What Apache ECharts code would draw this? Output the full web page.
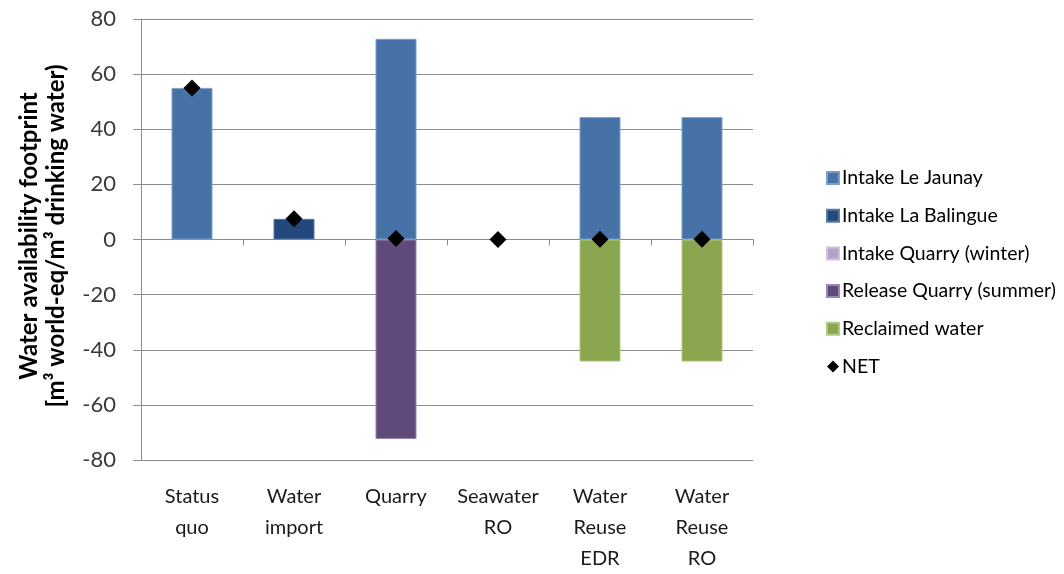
<!DOCTYPE html>
<html>
<head>
<meta charset="utf-8">
<script src="https://cdn.jsdelivr.net/npm/echarts@6/dist/echarts.min.js"></script>
<style>html,body{margin:0;padding:0;background:#fff;}#c{width:1064px;height:574px;}</style>
</head>
<body>
<div id="c"></div>
<script>
var categories = ['Status\nquo', 'Water\nimport', 'Quarry', 'Seawater\nRO', 'Water\nReuse\nEDR', 'Water\nReuse\nRO'];
var intakeLeJaunay = [55, null, 72.8, null, 44.4, 44.4];
var intakeLaBalingue = [null, 7.5, null, null, null, null];
var intakeQuarryWinter = [null, null, null, null, null, null];
var releaseQuarrySummer = [null, null, -72.4, null, null, null];
var reclaimedWater = [null, null, null, null, -44.3, -44.3];
var net = [55, 7.5, 0.4, 0, 0.1, 0.1];
var yTicks = [-80, -60, -40, -20, 0, 20, 40, 60, 80];

var FONT = 'Lato, "Open Sans", sans-serif';
var chart = echarts.init(document.getElementById('c'), null, {renderer: 'canvas'});

function barSeries(name, data, color, border) {
  return {
    name: name, type: 'bar', stack: 'total', stackStrategy: 'samesign',
    xAxisIndex: 0, yAxisIndex: 0, data: data, barWidth: 41,
    itemStyle: {color: color, borderColor: border, borderWidth: 1},
    emphasis: {disabled: true}
  };
}

chart.setOption({
  animation: false,
  backgroundColor: '#fff',
  textStyle: {fontFamily: FONT},
  grid: {left: 141, right: 311, top: 19, bottom: 108, containLabel: false},
  legend: {
    orient: 'vertical', left: 821, top: 162,
    itemWidth: 12, itemHeight: 12, itemGap: 15.7,
    textStyle: {fontSize: 19.5, color: '#000', fontFamily: FONT, padding: [0, 0, 0, -2], lineHeight: 22},
    data: [
      {name: 'Intake Le Jaunay', icon: 'rect'},
      {name: 'Intake La Balingue', icon: 'rect'},
      {name: 'Intake Quarry (winter)', icon: 'rect'},
      {name: 'Release Quarry (summer)', icon: 'rect'},
      {name: 'Reclaimed water', icon: 'rect'},
      {name: 'NET', icon: 'diamond', itemStyle: {color: '#000', opacity: 1}}
    ]
  },
  graphic: [{
    type: 'text', x: 43, y: 236, rotation: Math.PI / 2,
    style: {
      text: 'Water availability footprint\n[m³ world-eq/m³ drinking water)',
      font: 'bold 24px ' + FONT, fill: '#000',
      align: 'center', verticalAlign: 'middle', lineHeight: 27
    }
  }],
  xAxis: [{
    type: 'category', data: categories, position: 'bottom',
    axisLine: {show: false, onZero: false}, axisTick: {show: false},
    axisLabel: {fontSize: 20, color: '#1a1a1a', margin: 21, lineHeight: 31, verticalAlign: 'top', interval: 0, fontFamily: FONT},
    splitLine: {show: false}
  }, {
    type: 'category', data: categories, position: 'bottom',
    axisLine: {show: true, onZero: true, lineStyle: {color: '#8c8c8c', width: 1}},
    axisTick: {show: true, length: 6, lineStyle: {color: '#8c8c8c'}},
    axisLabel: {show: false}, splitLine: {show: false}
  }],
  yAxis: {
    type: 'value', min: yTicks[0], max: yTicks[yTicks.length - 1], interval: 20,
    axisLine: {show: true, onZero: false, lineStyle: {color: '#8c8c8c'}},
    axisTick: {show: true, length: 8, lineStyle: {color: '#8c8c8c'}},
    axisLabel: {fontSize: 22, color: '#3a3a3a', margin: 25, fontFamily: FONT},
    splitLine: {show: true, lineStyle: {color: '#8c8c8c', width: 1}}
  },
  series: [
    barSeries('Intake Le Jaunay', intakeLeJaunay, '#4672A8', '#7c9fca'),
    barSeries('Intake La Balingue', intakeLaBalingue, '#21497E', '#5a78a3'),
    barSeries('Intake Quarry (winter)', intakeQuarryWinter, '#B3A2C7', '#cfc3dc'),
    barSeries('Release Quarry (summer)', releaseQuarrySummer, '#604A7B', '#9a86b3'),
    barSeries('Reclaimed water', reclaimedWater, '#8AA64F', '#b1c985'),
    {
      name: 'NET', type: 'scatter', xAxisIndex: 0, yAxisIndex: 0, data: net,
      symbol: 'diamond', symbolSize: 17, z: 10,
      itemStyle: {color: '#000', opacity: 1}, emphasis: {disabled: true}
    }
  ]
});
</script>
</body>
</html>
